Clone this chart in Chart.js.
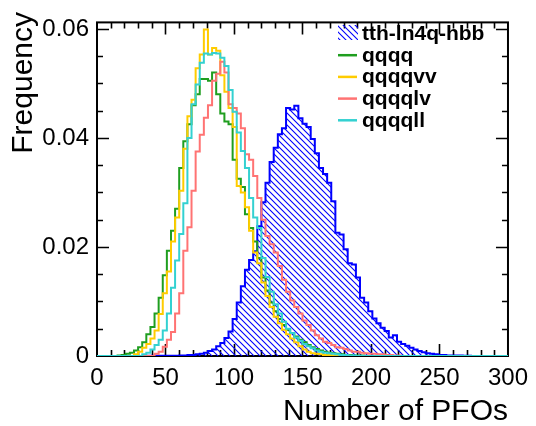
<!DOCTYPE html>
<html><head><meta charset="utf-8">
<script src="https://cdn.jsdelivr.net/npm/chart.js@4"></script>
<style>html,body{margin:0;padding:0;background:#fff}canvas{display:block}</style>
</head><body>
<canvas id="c" width="536" height="426"></canvas>
<script>
const binWidth = 3;
const xTicks = [0, 50, 100, 150, 200, 250, 300];
const yTicks = [0, 0.02, 0.04, 0.06];
const seriesNames = ['tth-ln4q-hbb', 'qqqq', 'qqqqvv', 'qqqqlv', 'qqqqll'];
const xTitle = 'Number of PFOs';
const yTitle = 'Frequency';

const sigTth = [
 0,0,0,0,0,0,0,0,0,0,
 0,0,0.00003,0.00003,0.00003,0.00006,0.00006,0.00006,0.00006,0.00006,
 0.0001,0.0001,0.0002,0.0002,0.0003,0.0004,0.0006,0.0009,0.0012,0.0018,
 0.0024,0.0033,0.0045,0.0068,0.0098,0.0128,0.0158,0.0176,0.0192,0.0238,
 0.0282,0.0318,0.0356,0.0382,0.0407,0.0418,0.0455,0.0452,0.0459,0.0436,
 0.0426,0.0420,0.0398,0.0372,0.0345,0.0334,0.0318,0.0284,0.0226,0.0223,
 0.0196,0.0170,0.0168,0.0144,0.0107,0.0098,0.0082,0.0069,0.0060,0.0052,
 0.0046,0.0034,0.0038,0.0026,0.0022,0.0019,0.0015,0.0012,0.0009,0.0007,
 0.0005,0.0004,0.0003,0.0002,0.0002,0.0001,0.0001,0.0001,0.0001,0.00005,
 0.00005,0,0,0,0,0,0,0,0,0
];
const bkgQqqq = [
 0,0,0,0,0,0.0001,0.0002,0.0004,0.0006,0.001,
 0.0016,0.0025,0.004,0.0053,0.0078,0.0107,0.0148,0.0193,0.023,0.027,
 0.0345,0.0394,0.0425,0.046,0.048,0.0508,0.0508,0.0505,0.052,0.048,
 0.0445,0.043,0.0425,0.036,0.0325,0.031,0.026,0.0235,0.021,0.018,
 0.0144,0.012,0.0098,0.0082,0.0068,0.0057,0.0048,0.0042,0.0036,0.003,
 0.0025,0.002,0.0016,0.0013,0.001,0.0008,0.0006,0.0005,0.0004,0.0003,
 0.0002,0.0002,0.0001,0.0001,0.0001,0,0,0,0,0,
 0,0,0,0,0,0,0,0,0,0,
 0,0,0,0,0,0,0,0,0,0,
 0,0,0,0,0,0,0,0,0,0
];
const bkgQqqqvv = [
 0,0,0,0,0,0,0,0,0,0.0003,
 0.0008,0.0015,0.0022,0.0032,0.0047,0.0077,0.0115,0.0155,0.021,0.0254,
 0.0303,0.038,0.044,0.047,0.0528,0.0553,0.0599,0.0553,0.0565,0.056,
 0.0515,0.0485,0.0455,0.042,0.0312,0.030,0.0273,0.023,0.019,0.017,
 0.0135,0.011,0.009,0.0072,0.006,0.0048,0.004,0.0032,0.0025,0.0018,
 0.0012,0.0008,0.0005,0.0004,0.0003,0.0002,0.0002,0.0001,0.0001,0,
 0,0,0,0,0,0,0,0,0,0,
 0,0,0,0,0,0,0,0,0,0,
 0,0,0,0,0,0,0,0,0,0,
 0,0,0,0,0,0,0,0,0,0
];
const bkgQqqqlv = [
 0,0,0,0,0,0,0,0,0,0,
 0,0,0,0,0.0004,0.0008,0.0017,0.003,0.0044,0.0078,
 0.0115,0.0193,0.0236,0.0303,0.0375,0.0406,0.0437,0.046,0.0505,0.0518,
 0.054,0.052,0.0462,0.0455,0.0445,0.0418,0.037,0.036,0.033,0.029,
 0.025,0.022,0.0205,0.019,0.0165,0.014,0.0118,0.0102,0.009,0.0078,
 0.0065,0.0057,0.0047,0.0038,0.0032,0.0026,0.0024,0.002,0.0016,0.0015,
 0.0013,0.001,0.0008,0.0008,0.0006,0.0005,0.0004,0.0004,0.0003,0.0003,
 0.0002,0.0002,0.0001,0.0001,0,0,0,0,0,0,
 0,0,0,0,0,0,0,0,0,0,
 0,0,0,0,0,0,0,0,0,0
];
const bkgQqqqll = [
 0,0,0,0,0,0,0,0,0,0,
 0,0.0003,0.0006,0.0012,0.002,0.003,0.0047,0.0078,0.0125,0.0175,
 0.0224,0.028,0.040,0.0462,0.0498,0.0538,0.0555,0.0553,0.0556,0.0555,
 0.0547,0.0532,0.0488,0.0448,0.041,0.0376,0.0345,0.029,0.0254,0.0235,
 0.018,0.0145,0.0118,0.0095,0.0078,0.0063,0.005,0.0042,0.0034,0.0028,
 0.0022,0.0018,0.0014,0.001,0.0008,0.0006,0.0005,0.0004,0.0003,0.0002,
 0.0002,0.0001,0.0001,0,0,0,0,0,0,0,
 0,0,0,0,0,0,0,0,0,0,
 0,0,0,0,0,0,0,0,0,0,
 0,0,0,0,0,0,0,0,0,0
];

const colors = ['#0000ff', '#1f9e1f', '#ffcc00', '#ff7373', '#33d1d1'];
const seriesValues = [sigTth, bkgQqqq, bkgQqqqvv, bkgQqqqlv, bkgQqqqll];

// points at lower bin edges; 'before' stepping keeps each value over [edge_i, edge_i+1]
function toSteps(vals) {
  const pts = vals.map((v, i) => ({ x: i * binWidth, y: v }));
  pts.push({ x: vals.length * binWidth, y: vals[vals.length - 1] });
  return pts;
}

const canvas = document.getElementById('c');
const ctx0 = canvas.getContext('2d');
function makeHatch(color) {
  const s = 6;
  const c = document.createElement('canvas');
  c.width = s; c.height = s;
  const g = c.getContext('2d');
  g.strokeStyle = color; g.lineWidth = 1.1;
  g.beginPath();
  g.moveTo(0, 0); g.lineTo(s, s);
  g.moveTo(-1, s - 1); g.lineTo(1, s + 1);
  g.moveTo(s - 1, -1); g.lineTo(s + 1, 1);
  g.stroke();
  return ctx0.createPattern(c, 'repeat');
}
const hatch = makeHatch('#0000ff');

const FONT = '"Liberation Sans", Arial, Helvetica, sans-serif';

const datasets = seriesValues.map((vals, k) => ({
  label: seriesNames[k],
  data: toSteps(vals),
  stepped: 'before',
  borderColor: colors[k],
  borderWidth: 2,
  pointRadius: 0,
  fill: k === 0 ? 'origin' : false,
  backgroundColor: k === 0 ? hatch : 'transparent',
  order: 5 - k
}));

const framePlugin = {
  id: 'frameTicks',
  beforeDatasetsDraw(chart) {
    const { ctx, chartArea: a, scales: { x, y } } = chart;
    ctx.save();
    ctx.strokeStyle = '#000';
    ctx.lineWidth = 2;
    ctx.strokeRect(a.left, a.top, a.right - a.left, a.bottom - a.top);
    ctx.lineWidth = 1.6;
    ctx.beginPath();
    for (let v = 10; v < 300; v += 10) {
      const px = Math.round(x.getPixelForValue(v)) + 0.5;
      const L = v % 50 === 0 ? 12 : 6;
      ctx.moveTo(px, a.bottom); ctx.lineTo(px, a.bottom - L);
      ctx.moveTo(px, a.top); ctx.lineTo(px, a.top + L);
    }
    for (let k = 1; k < 13; k++) {
      const v = k * 0.005;
      const py = Math.round(y.getPixelForValue(v)) + 0.5;
      const L = k % 4 === 0 ? 12 : 6;
      ctx.moveTo(a.left, py); ctx.lineTo(a.left + L, py);
      ctx.moveTo(a.right, py); ctx.lineTo(a.right - L, py);
    }
    ctx.stroke();
    ctx.fillStyle = '#000';
    ctx.font = '30px ' + FONT;
    ctx.textAlign = 'right';
    ctx.textBaseline = 'alphabetic';
    ctx.fillText(xTitle, a.right, 420);
    ctx.translate(32, 12);
    ctx.rotate(-Math.PI / 2);
    ctx.fillText(yTitle, 0, 0);
    ctx.restore();
  },
  afterDraw(chart) {
    const { ctx } = chart;
    ctx.save();
    const x0 = 338, x1 = 357, tx = 362;
    const base0 = 40, step = 21.7;
    ctx.font = 'bold 21px ' + FONT;
    ctx.textAlign = 'left';
    ctx.textBaseline = 'alphabetic';
    seriesNames.forEach((name, k) => {
      const b = base0 + k * step;
      if (k === 0) {
        ctx.fillStyle = hatch;
        ctx.fillRect(x0, b - 15, x1 - x0 + 1, 15);
      } else {
        ctx.strokeStyle = colors[k];
        ctx.lineWidth = 2.5;
        ctx.beginPath();
        ctx.moveTo(x0, b - 6.5); ctx.lineTo(x1, b - 6.5);
        ctx.stroke();
      }
      ctx.fillStyle = '#000';
      ctx.fillText(name, tx, b);
    });
    ctx.restore();
  }
};

new Chart(canvas, {
  type: 'line',
  data: { datasets },
  options: {
    responsive: false,
    animation: false,
    devicePixelRatio: 1,
    layout: { padding: { top: 21, right: 25, left: 0, bottom: 0 } },
    plugins: { legend: { display: false }, tooltip: { enabled: false } },
    scales: {
      x: {
        type: 'linear', min: 0, max: 300,
        afterFit(s) { s.height = 70; },
        afterBuildTicks(s) { s.ticks = xTicks.map(v => ({ value: v })); },
        grid: { display: false, drawTicks: false },
        border: { display: false },
        ticks: { color: '#000', font: { family: FONT, size: 24 }, padding: 8, maxRotation: 0, autoSkip: false,
          callback: v => String(v) }
      },
      y: {
        type: 'linear', min: 0, max: 0.0612,
        afterFit(s) { s.width = 97; },
        afterBuildTicks(s) { s.ticks = yTicks.map(v => ({ value: v })); },
        grid: { display: false, drawTicks: false },
        border: { display: false },
        ticks: { color: '#000', font: { family: FONT, size: 24 }, padding: 8, autoSkip: false,
          callback: v => (v === 0 ? '0' : v.toFixed(2)) }
      }
    }
  },
  plugins: [framePlugin]
});
</script>
</body></html>
